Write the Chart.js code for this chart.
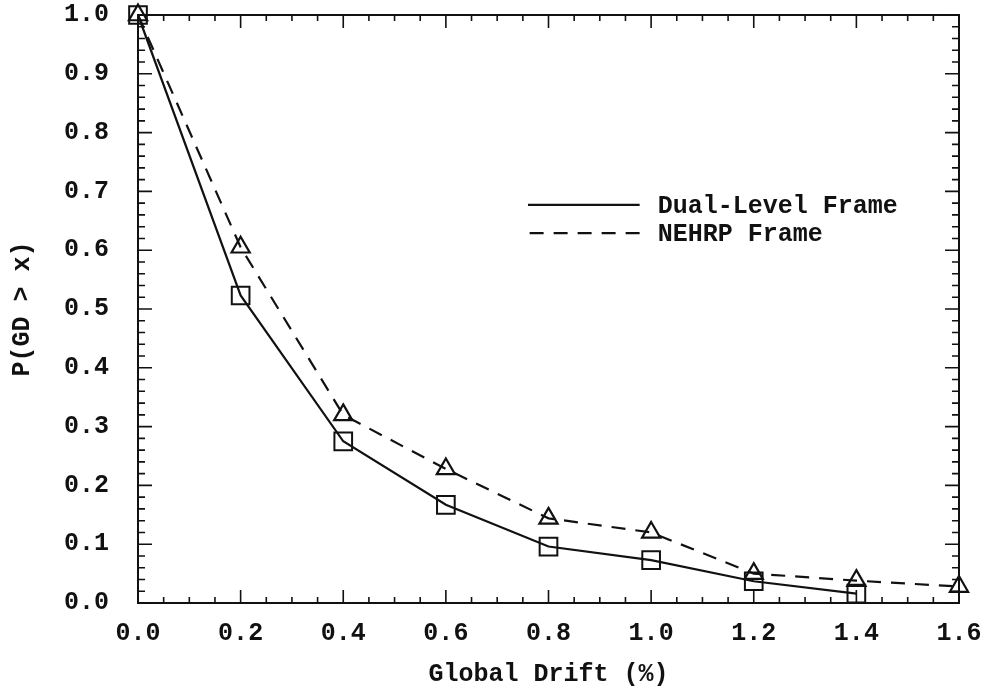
<!DOCTYPE html>
<html>
<head>
<meta charset="utf-8">
<title>P(GD > x) vs Global Drift</title>
<script src="https://cdn.jsdelivr.net/npm/chart.js@4.4.1/dist/chart.umd.min.js"></script>
<style>
  html, body { margin: 0; padding: 0; background: #ffffff; }
  #wrap { width: 985px; height: 694px; }
</style>
</head>
<body>
<div id="wrap"><canvas id="c" width="985" height="694"></canvas></div>
<script>
// Global drift levels (%) at which the exceedance probability was evaluated
const driftLevels = [0.0, 0.2, 0.4, 0.6, 0.8, 1.0, 1.2, 1.4, 1.6];

// P(GD > x) for each frame design
const dualLevelProb = [1.0, 0.523, 0.275, 0.167, 0.096, 0.073, 0.037, 0.016];
const nehrpProb     = [1.0, 0.605, 0.320, 0.228, 0.144, 0.120, 0.050, 0.038, 0.028];

const seriesNames = ['Dual-Level Frame', 'NEHRP Frame'];
const xTitle = 'Global Drift (%)';
const yTitle = 'P(GD > x)';

const FONT = '"Liberation Mono", "DejaVu Sans Mono", monospace';
const INK = '#111111';

function toPoints(vals) {
  return vals.map((v, i) => ({ x: driftLevels[i], y: v }));
}

// Keep the plotting area fixed: no extra room reserved for overhanging edge labels
function noEdgePadding(scale) {
  scale.paddingLeft = 0;
  scale.paddingRight = 0;
  scale.paddingTop = 0;
  scale.paddingBottom = 0;
}

// Frame box with inward major/minor ticks on all four sides
const framePlugin = {
  id: 'frame',
  afterDatasetsDraw(chart) {
    const { ctx, chartArea: a, scales } = chart;
    const xs = scales.x, ys = scales.y;
    ctx.save();
    ctx.strokeStyle = INK;
    ctx.lineWidth = 2;
    ctx.strokeRect(a.left, a.top, a.right - a.left, a.bottom - a.top);
    ctx.lineWidth = 1.6;
    ctx.beginPath();
    // x ticks every 0.05, major every 0.2
    for (let k = 0; k <= 32; k++) {
      const px = xs.getPixelForValue(k * 0.05);
      const len = (k % 4 === 0) ? 13 : 6;
      ctx.moveTo(px, a.bottom); ctx.lineTo(px, a.bottom - len);
      ctx.moveTo(px, a.top); ctx.lineTo(px, a.top + len);
    }
    // y ticks every 0.02, major every 0.1
    for (let k = 0; k <= 50; k++) {
      const py = ys.getPixelForValue(k * 0.02);
      const len = (k % 5 === 0) ? 14 : 7;
      ctx.moveTo(a.left, py); ctx.lineTo(a.left + len, py);
      ctx.moveTo(a.right, py); ctx.lineTo(a.right - len, py);
    }
    ctx.stroke();
    ctx.restore();
  }
};

// Line-style key placed inside the plotting area
const keyPlugin = {
  id: 'lineKey',
  afterDatasetsDraw(chart) {
    const { ctx, chartArea: a } = chart;
    const w = a.right - a.left, h = a.bottom - a.top;
    const lineEnd = a.left + 0.611 * w;
    const textX = a.left + 0.633 * w;
    const rows = [
      { lineStart: a.left + 0.475 * w, y: a.top + 0.323 * h },
      { lineStart: a.left + 0.477 * w, y: a.top + 0.371 * h }
    ];
    ctx.save();
    chart.data.datasets.forEach((ds, i) => {
      const r = rows[i];
      ctx.strokeStyle = ds.borderColor;
      ctx.lineWidth = ds.borderWidth;
      ctx.setLineDash(ds.borderDash || []);
      ctx.beginPath();
      ctx.moveTo(r.lineStart, r.y);
      ctx.lineTo(lineEnd, r.y);
      ctx.stroke();
      ctx.setLineDash([]);
      ctx.fillStyle = INK;
      ctx.font = 'bold 25px ' + FONT;
      ctx.textBaseline = 'middle';
      ctx.textAlign = 'left';
      ctx.fillText(ds.label, textX, r.y + 2);
    });
    ctx.restore();
  }
};

new Chart(document.getElementById('c'), {
  type: 'line',
  data: {
    datasets: [
      {
        label: seriesNames[0],
        data: toPoints(dualLevelProb),
        borderColor: INK,
        borderWidth: 2.2,
        pointStyle: 'rect',
        pointRadius: 12.5,
        pointBorderWidth: 2,
        pointBackgroundColor: 'rgba(0,0,0,0)',
        pointBorderColor: INK,
        tension: 0
      },
      {
        label: seriesNames[1],
        data: toPoints(nehrpProb),
        borderColor: INK,
        borderWidth: 2.2,
        borderDash: [14, 10],
        pointStyle: 'triangle',
        pointRadius: 10.5,
        pointBorderWidth: 2.2,
        pointBackgroundColor: 'rgba(0,0,0,0)',
        pointBorderColor: INK,
        tension: 0
      }
    ]
  },
  options: {
    responsive: false,
    animation: false,
    clip: false,
    layout: { padding: { top: 15, right: 26, left: 0, bottom: 0 } },
    plugins: {
      legend: { display: false },
      tooltip: { enabled: false },
      title: { display: false }
    },
    scales: {
      x: {
        type: 'linear',
        min: 0,
        max: 1.6,
        grid: { display: false, drawTicks: false },
        border: { display: true, color: INK, width: 2 },
        ticks: {
          stepSize: 0.2,
          padding: 16,
          color: INK,
          font: { family: FONT, size: 25, weight: 'bold' },
          callback: v => Number(v).toFixed(1)
        },
        title: {
          display: true,
          text: xTitle,
          color: INK,
          font: { family: FONT, size: 25, weight: 'bold' },
          padding: { top: 2 }
        },
        afterFit(scale) { scale.height = 91; noEdgePadding(scale); }
      },
      y: {
        type: 'linear',
        min: 0,
        max: 1.0,
        grid: { display: false, drawTicks: false },
        border: { display: true, color: INK, width: 2 },
        ticks: {
          stepSize: 0.1,
          padding: 29,
          color: INK,
          font: { family: FONT, size: 25, weight: 'bold' },
          callback: v => Number(v).toFixed(1)
        },
        title: {
          display: true,
          text: yTitle,
          color: INK,
          font: { family: FONT, size: 25, weight: 'bold' },
          padding: { top: 8, bottom: 0 }
        },
        afterFit(scale) { scale.width = 138; noEdgePadding(scale); }
      }
    }
  },
  plugins: [framePlugin, keyPlugin]
});
</script>
</body>
</html>
